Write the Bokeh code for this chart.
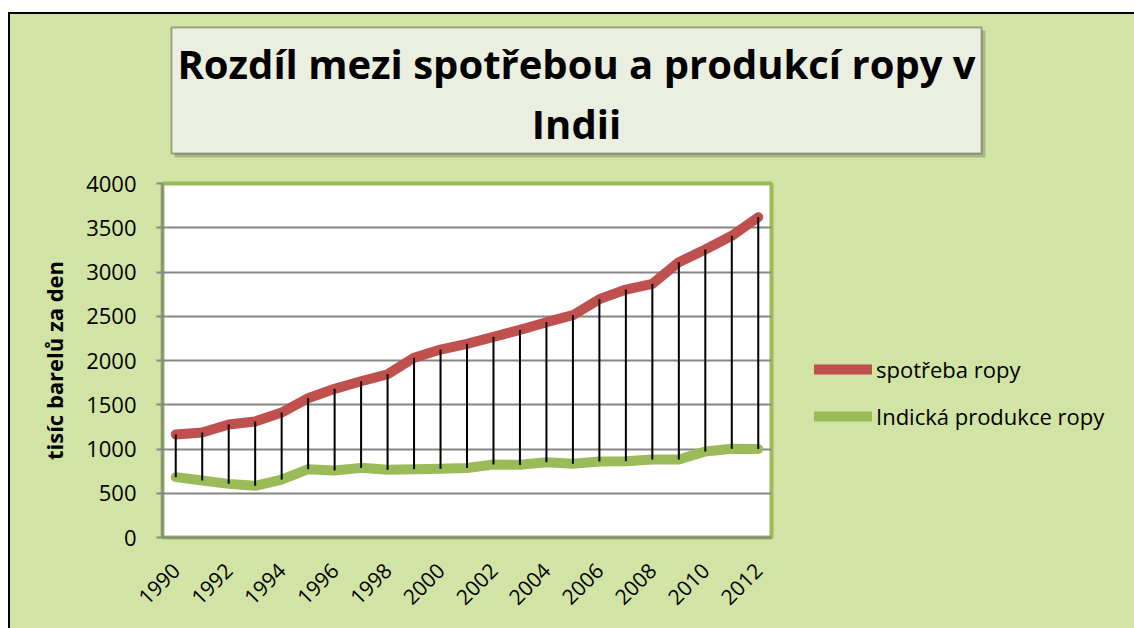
import math
from bokeh.plotting import figure
from bokeh.layouts import column, row
from bokeh.models import (ColumnDataSource, Legend, LegendItem, Label, BoxAnnotation,
                          FixedTicker, Range1d)
from bokeh.embed import file_html
from bokeh.resources import INLINE

# ---- data (thousand barrels per day) ----
years = list(range(1990, 2013))
consumption = [1164, 1186, 1277, 1311, 1412, 1574, 1680, 1766, 1845, 2030, 2124, 2188,
               2267, 2346, 2433, 2512, 2693, 2802, 2866, 3111, 3254, 3409, 3619]
production = [682, 644, 606, 584, 655, 772, 757, 787, 765, 772, 776, 785,
              825, 821, 851, 833, 859, 862, 881, 881, 972, 1002, 1000]
x_ticks = years[::2]
y_ticks = list(range(0, 4001, 500))
title_text = "Rozdíl mezi spotřebou a produkcí ropy v\nIndii"
y_title = "tisíc barelů za den"
series_names = ["spotřeba ropy", "Indická produkce ropy"]

RED = "#C0504D"
GREEN = "#9BBB59"
BG = "#D1E3A5"
FONT = "Open Sans"

src = ColumnDataSource(dict(x=years, cons=consumption, prod=production))

# ---------------- title strip ----------------
TW, TH = 1124, 149
pt = figure(width=TW, height=TH, x_range=Range1d(0, TW), y_range=Range1d(TH, 0),
            x_axis_type=None, y_axis_type=None, output_backend="svg", toolbar_location=None,
            min_border=0)
pt.border_fill_color = BG
pt.background_fill_color = BG
pt.outline_line_color = None
pt.grid.visible = False
pt.add_layout(BoxAnnotation(left=164, right=975, top=16, bottom=143,
                            fill_color="#8a9670", fill_alpha=0.55, line_color=None))
pt.add_layout(BoxAnnotation(left=161, right=971, top=13, bottom=139,
                            fill_color="#EBEFDF", fill_alpha=1, line_color="black", line_width=2))
pt.add_layout(Label(x=566, y=79, text=title_text, text_align="center", text_baseline="middle",
                    text_font=FONT, text_font_style="bold", text_font_size="40px",
                    text_color="black", text_line_height=1.1))

# ---------------- main chart ----------------
MW, MH = 766, 465
TOP = 20
p = figure(width=MW, height=MH, x_range=Range1d(1989.5, 2012.5), y_range=Range1d(0, 4000),
           output_backend="svg", toolbar_location=None,
           min_border_left=152, min_border_right=MW - 152 - 609, min_border_top=TOP,
           min_border_bottom=MH - TOP - 354)
p.border_fill_color = BG
p.background_fill_color = "white"
p.outline_line_color = GREEN
p.outline_line_width = 4

p.xaxis.ticker = FixedTicker(ticks=x_ticks)
p.xaxis.major_label_orientation = math.pi / 4
p.xaxis.major_tick_line_color = None
p.xaxis.minor_tick_line_color = None
p.xaxis.axis_line_color = "#868686"
p.xaxis.axis_line_width = 2
p.xaxis.major_label_text_font = FONT
p.xaxis.major_label_text_font_size = "21px"
p.xaxis.major_label_text_color = "black"
p.xaxis.major_label_standoff = 23

p.yaxis.ticker = FixedTicker(ticks=y_ticks)
p.yaxis.minor_tick_line_color = None
p.yaxis.major_tick_out = 6
p.yaxis.major_tick_in = 0
p.yaxis.major_tick_line_color = "#868686"
p.yaxis.major_tick_line_width = 2
p.yaxis.axis_line_color = "#868686"
p.yaxis.axis_line_width = 2
p.yaxis.major_label_text_font = FONT
p.yaxis.major_label_text_font_size = "22px"
p.yaxis.major_label_text_color = "black"
p.yaxis.major_label_standoff = 20
p.yaxis.axis_label = y_title
p.yaxis.axis_label_text_font = FONT
p.yaxis.axis_label_text_font_style = "bold"
p.yaxis.axis_label_text_font_size = "22px"
p.yaxis.axis_label_text_color = "black"
p.yaxis.axis_label_standoff = 14

p.xgrid.grid_line_color = None
p.ygrid.grid_line_color = "#868686"
p.ygrid.grid_line_width = 2

p.line("x", "cons", source=src, line_color=RED, line_width=10, line_cap="round", line_join="round")
p.line("x", "prod", source=src, line_color=GREEN, line_width=10, line_cap="round", line_join="round")
p.segment(x0="x", y0="prod", x1="x", y1="cons", source=src, line_color="black", line_width=2)

# ---------------- legend strip ----------------
# (its frame is aligned with the main chart's frame by the row layout)
LW = TW - MW
pl = figure(width=LW, height=MH, x_range=Range1d(0, 1), y_range=Range1d(0, 1),
            x_axis_type=None, y_axis_type=None, output_backend="svg", toolbar_location=None,
            min_border=0)
pl.border_fill_color = BG
pl.background_fill_color = BG
pl.outline_line_color = None
pl.grid.visible = False
# same series (outside this strip's ranges, so only their legend swatches show)
lr_cons = pl.line("x", "cons", source=src, line_color=RED, line_width=10, line_cap="round")
lr_prod = pl.line("x", "prod", source=src, line_color=GREEN, line_width=10, line_cap="round")
legend = Legend(items=[LegendItem(label=series_names[0], renderers=[lr_cons]),
                       LegendItem(label=series_names[1], renderers=[lr_prod])],
                location=(38, 106), orientation="vertical",
                background_fill_alpha=0, border_line_color=None,
                padding=0, margin=0, spacing=17, glyph_width=58, glyph_height=20,
                label_height=20, label_standoff=4,
                label_text_font=FONT, label_text_font_size="22px", label_text_color="black")
pl.add_layout(legend, "center")

layout = column(pt, row(p, pl, spacing=0), spacing=0,
                styles={"margin-left": "8px", "margin-top": "12px",
                        "border-left": "2px solid black", "border-top": "2px solid black",
                        "background-color": BG})

open("out.html", "w").write(file_html(layout, INLINE))
